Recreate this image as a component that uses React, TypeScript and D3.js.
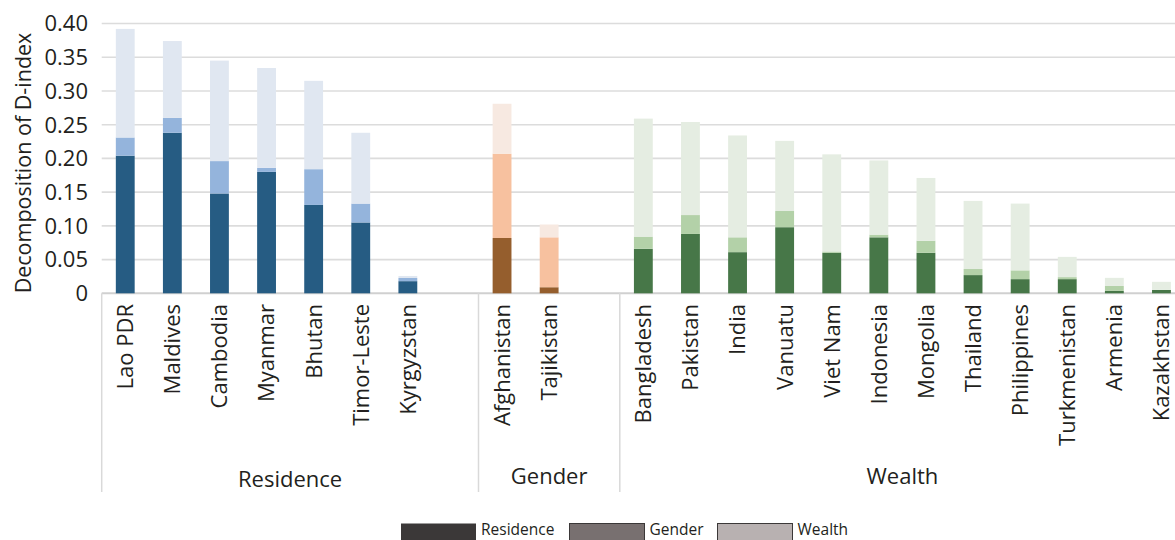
import React from "react";
import * as d3 from "d3";

const countries = ["Lao PDR","Maldives","Cambodia","Myanmar","Bhutan","Timor-Leste","Kyrgyzstan","Afghanistan","Tajikistan","Bangladesh","Pakistan","India","Vanuatu","Viet Nam","Indonesia","Mongolia","Thailand","Philippines","Turkmenistan","Armenia","Kazakhstan"];
const countryGroups = ["Residence","Residence","Residence","Residence","Residence","Residence","Residence","Gender","Gender","Wealth","Wealth","Wealth","Wealth","Wealth","Wealth","Wealth","Wealth","Wealth","Wealth","Wealth","Wealth"];
const groupNames = ["Residence","Gender","Wealth"];
const residenceValues = [0.204,0.238,0.148,0.180,0.131,0.105,0.018,0.082,0.009,0.066,0.088,0.061,0.098,0.060,0.083,0.060,0.027,0.021,0.021,0.0035,0.005];
const genderValues = [0.027,0.022,0.048,0.006,0.053,0.028,0.0047,0.125,0.074,0.018,0.028,0.022,0.024,0.002,0.004,0.018,0.009,0.013,0.003,0.0074,0.0];
const wealthValues = [0.161,0.114,0.149,0.148,0.131,0.105,0.003,0.074,0.019,0.175,0.138,0.151,0.104,0.144,0.110,0.093,0.101,0.099,0.030,0.012,0.012];
const yTicks = [0,0.05,0.10,0.15,0.20,0.25,0.30,0.35,0.40];
const legendItems = ["Residence","Gender","Wealth"];

const palette: Record<string,string[]> = {
  Residence: ["#265c83","#94b4dc","#e0e7f1"],
  Gender: ["#955e2d","#f7c19f","#f7e9e1"],
  Wealth: ["#477748","#b3d1a8","#e5ede2"],
};
const legendFill = ["#3b3838","#787070","#b8b1b1"];
const FONT = "'Open Sans', sans-serif";
const TXT = "#231f20";

export default function App() {
  const W = 1175, H = 540;
  const left = 101.7, right = 1185, y0 = 293.3, yTop = 23.5;
  const slots: string[] = [];
  groupNames.forEach((g, gi) => {
    countries.forEach((c, i) => { if (countryGroups[i] === g) slots.push(c); });
    if (gi < groupNames.length - 1) slots.push("__gap" + gi);
  });
  const x = d3.scaleBand<string>().domain(slots).range([left, right]).paddingInner(0.6).paddingOuter(0.3);
  const y = d3.scaleLinear().domain([0, 0.4]).range([y0, yTop]);
  const rows = countries.map((c, i) => ({ country: c, group: countryGroups[i], residence: residenceValues[i], gender: genderValues[i], wealth: wealthValues[i] }));
  const stack = d3.stack<any>().keys(["residence","gender","wealth"]);
  const series = stack(rows);
  const step = x.step();
  const groupSpans = groupNames.map((g, gi) => {
    const members = slots.map((s, si) => ({ s, si })).filter(o => countries.indexOf(o.s) >= 0 && countryGroups[countries.indexOf(o.s)] === g);
    const firstIdx = members[0].si;
    const lastIdx = gi < groupNames.length - 1 ? members[members.length - 1].si + 1 : members[members.length - 1].si;
    const x0 = left + firstIdx * step;
    const x1 = left + (lastIdx + 1) * step;
    return { g, x0, x1 };
  });
  const legendX = [401, 569.5, 717.5];
  return (
    <div style={{ position: "absolute", left: 0, top: 0 }}>
      <svg width={W} height={H} style={{ display: "block", background: "#fff" }}>
        {yTicks.map(t => (
          <line key={"g" + t} x1={left} x2={W} y1={y(t)} y2={y(t)} stroke={t === 0 ? "#d0d0d0" : "#dcdcdc"} strokeWidth={t === 0 ? 2 : 1.6} />
        ))}
        {yTicks.map(t => (
          <text key={"t" + t} x={88} y={y(t)} dy="0.36em" textAnchor="end" fontFamily={FONT} fontSize={22} fill={TXT}>{t === 0 ? "0" : t.toFixed(2)}</text>
        ))}
        <text transform={`translate(31,163) rotate(-90)`} textAnchor="middle" fontFamily={FONT} fontSize={21.5} fill={TXT}>Decomposition of D-index</text>
        {series.map((s, li) => (
          <g key={s.key}>
            {s.map((d: any, i: number) => (
              <rect key={i} x={x(d.data.country)} width={x.bandwidth()} y={y(d[1])} height={Math.max(0, y(d[0]) - y(d[1]))} fill={palette[d.data.group][li]} />
            ))}
          </g>
        ))}
        {groupSpans.map(({ g, x0 }) => (
          <line key={"v" + g} x1={x0} x2={x0} y1={y0} y2={492} stroke="#d9d9d9" strokeWidth={1.5} />
        ))}
        {countries.map(c => (
          <text key={"c" + c} transform={`translate(${(x(c) as number) + x.bandwidth() / 2},304) rotate(-90)`} textAnchor="end" dy="0.36em" fontFamily={FONT} fontSize={22} fill={TXT}>{c}</text>
        ))}
        {groupSpans.map(({ g, x0, x1 }) => (
          <text key={"gl" + g} x={(x0 + x1) / 2} y={g === "Residence" ? 487 : 484} textAnchor="middle" fontFamily={FONT} fontSize={22} fill={TXT}>{g}</text>
        ))}
        {legendItems.map((l, i) => (
          <g key={"l" + l}>
            <rect x={legendX[i]} y={523.5} width={75} height={20} fill={legendFill[i]} stroke={i === 0 ? "none" : "#3b3838"} strokeWidth={1} />
            <text x={legendX[i] + 80} y={535} fontFamily={FONT} fontSize={15.5} fill={TXT}>{l}</text>
          </g>
        ))}
      </svg>
    </div>
  );
}
